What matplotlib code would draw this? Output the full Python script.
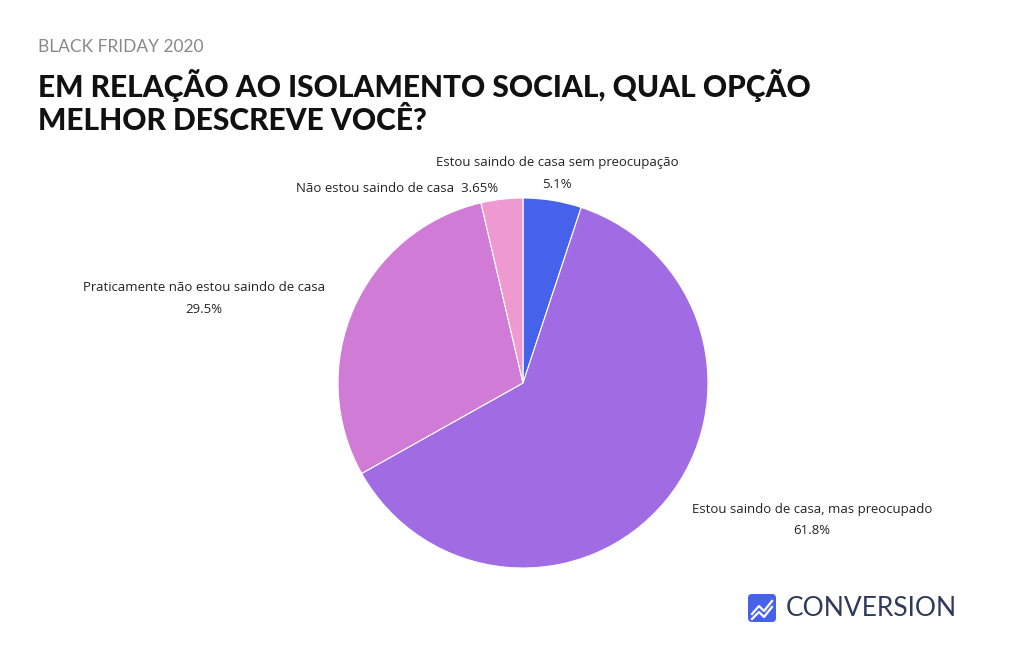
import matplotlib.pyplot as plt
from matplotlib.patches import FancyBboxPatch

labels = ['Estou saindo de casa sem preocupação', 'Estou saindo de casa, mas preocupado',
          'Praticamente não estou saindo de casa', 'Não estou saindo de casa']
values = [5.1, 61.8, 29.5, 3.65]
value_text = ['5.1%', '61.8%', '29.5%', '3.65%']
colors = ['#4762EA', '#A06BE3', '#D07CD6', '#EE9AD0']

fig = plt.figure(figsize=(10.24, 6.55), dpi=100)
fig.patch.set_facecolor('white')

fig.text(38 / 1024, 1 - 47 / 655, 'BLACK FRIDAY 2020', fontsize=12.5, color='#888888',
         family='Lato', va='center')
fig.text(38 / 1024, 1 - 102 / 655, 'EM RELAÇÃO AO ISOLAMENTO SOCIAL, QUAL OPÇÃO\nMELHOR DESCREVE VOCÊ?',
         fontsize=21.5, fontweight='heavy', family='Lato', color='#111111', va='center',
         linespacing=1.2)

ax = fig.add_axes([(523 - 185) / 1024, 1 - (383 + 185) / 655, 370 / 1024, 370 / 655])
ax.pie(values, colors=colors, startangle=90, counterclock=False,
       wedgeprops=dict(linewidth=0.8, edgecolor='white'))
ax.set_xlim(-1, 1)
ax.set_ylim(-1, 1)
ax.set_aspect('equal')

def lab(x, y, t1, t2):
    fig.text(x / 1024, 1 - y / 655, t1, fontsize=9.5, family='Open Sans', ha='center', va='center', color='#222222')
    if t2:
        fig.text(x / 1024, 1 - (y + 21) / 655, t2, fontsize=9.5, family='Open Sans', ha='center', va='center', color='#222222')

lab(557, 163, labels[0], value_text[0])
lab(812, 510, labels[1], value_text[1])
lab(204, 288, labels[2], value_text[2])
lab(397, 189, labels[3] + '  ' + value_text[3], None)

# logo
lax = fig.add_axes([0, 0, 1, 1])
lax.set_xlim(0, 1024)
lax.set_ylim(655, 0)
lax.axis('off')
lax.add_patch(FancyBboxPatch((748, 594), 28, 28, boxstyle='round,pad=0,rounding_size=4',
                             facecolor='#4762EA', edgecolor='none'))
lax.plot([752, 759, 764, 772], [614, 606, 611, 601], color='white', lw=1.6)
lax.plot([752, 759, 764, 772], [619, 612, 617, 607], color='white', lw=1.6)
lax.text(786, 608, 'CONVERSION', fontsize=19, family='Lato', color='#2F3A5A', va='center')

fig.savefig('out.png', dpi=100)
